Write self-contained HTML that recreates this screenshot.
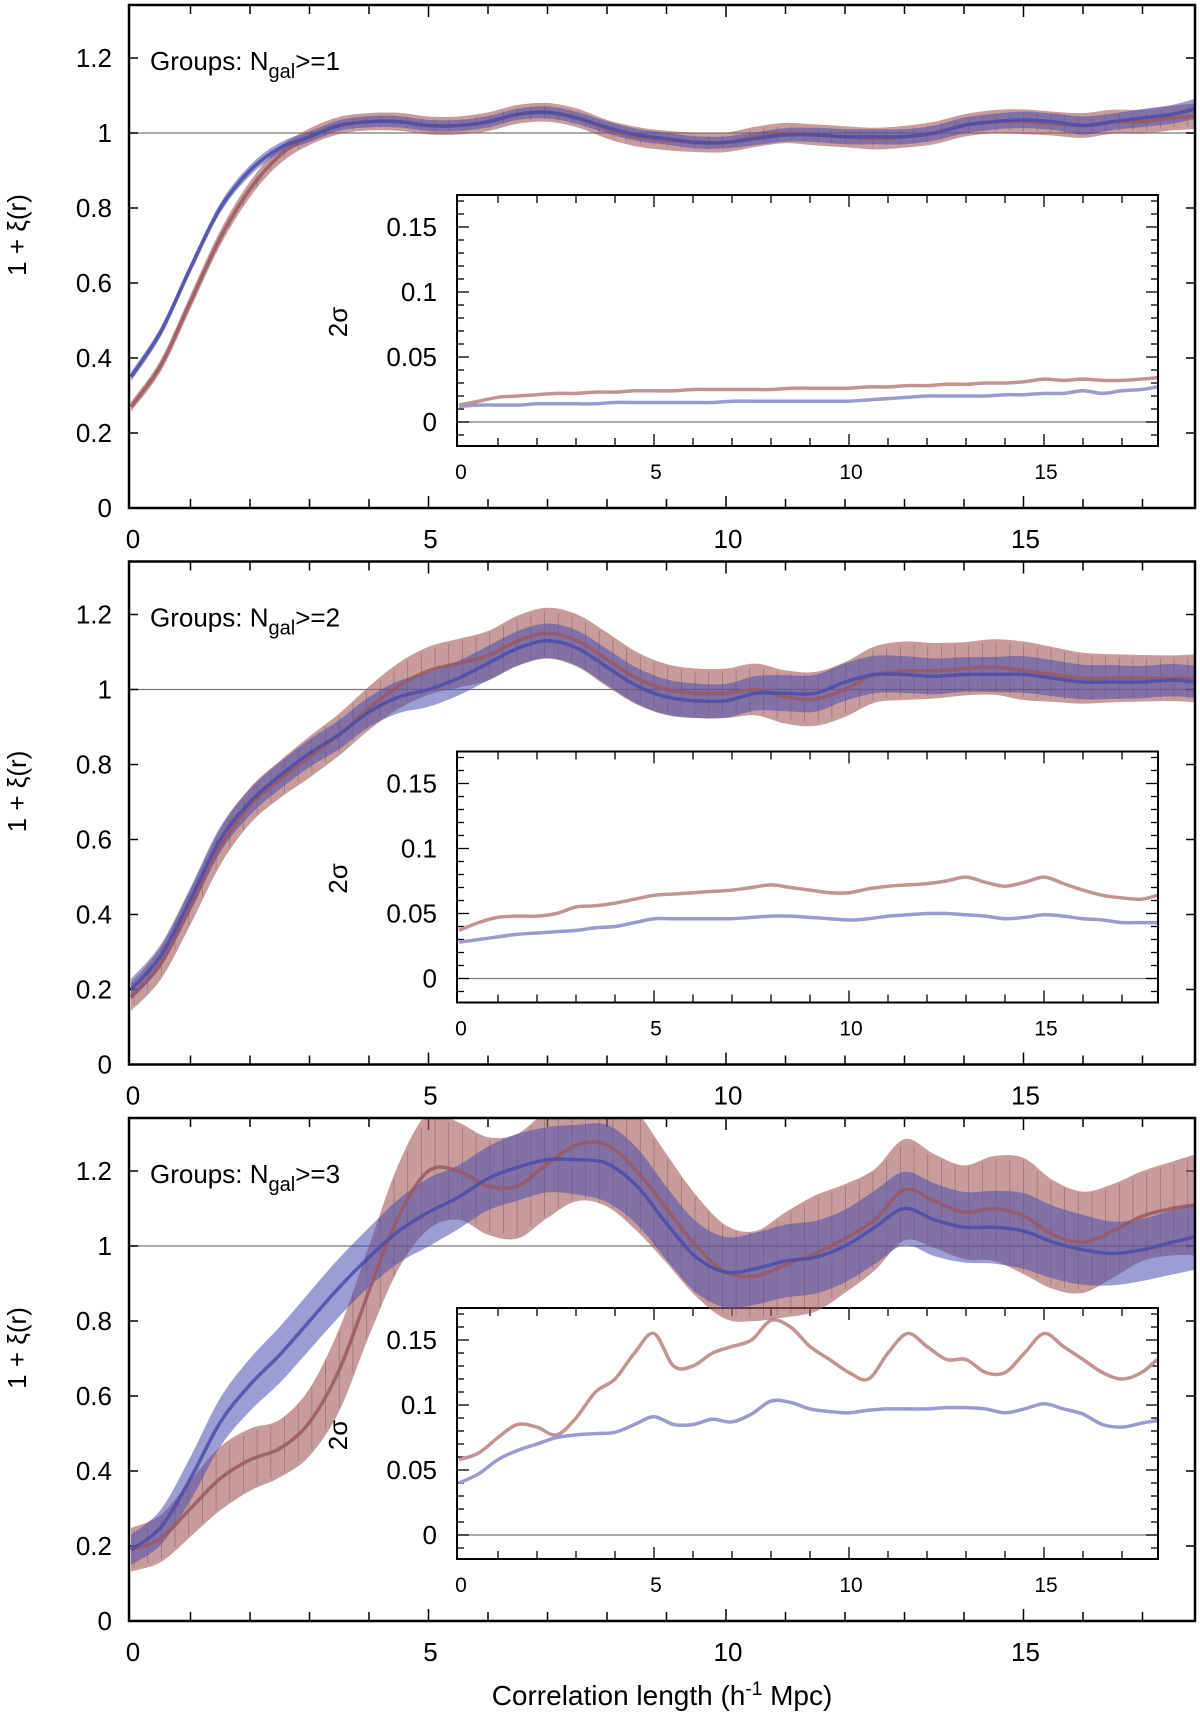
<!DOCTYPE html>
<html><head><meta charset="utf-8"><style>
html,body{margin:0;padding:0;background:#fff}
svg{display:block}
text{font-family:"Liberation Sans",sans-serif;fill:#000}
</style></head><body>
<svg id="fig" width="1200" height="1715" viewBox="0 0 1200 1715" xmlns="http://www.w3.org/2000/svg"></svg>
<script>
// ---------- data ----------
const xGrid = [0,0.5,1,1.5,2,2.5,3,3.5,4,4.5,5,5.5,6,6.5,7,7.5,8,8.5,9,9.5,10,10.5,11,11.5,12,12.5,13,13.5,14,14.5,15,15.5,16,16.5,17,17.5,17.9];
const p1Red  = [0.27,0.38,0.55,0.72,0.85,0.94,0.99,1.02,1.03,1.03,1.02,1.02,1.03,1.05,1.055,1.04,1.01,0.99,0.98,0.975,0.975,0.99,1.0,0.995,0.99,0.985,0.99,1.0,1.02,1.03,1.03,1.025,1.02,1.03,1.03,1.04,1.045];
const p1Blue = [0.35,0.47,0.64,0.80,0.90,0.96,0.99,1.02,1.03,1.03,1.02,1.02,1.03,1.05,1.055,1.04,1.015,0.995,0.985,0.975,0.975,0.985,0.995,0.995,0.99,0.99,0.99,1.0,1.02,1.03,1.035,1.03,1.02,1.03,1.04,1.05,1.065];
const p2Red  = [0.18,0.27,0.42,0.58,0.69,0.76,0.82,0.88,0.95,1.01,1.05,1.07,1.09,1.13,1.15,1.13,1.08,1.03,1.0,0.99,0.99,1.0,0.98,0.975,1.0,1.04,1.05,1.05,1.055,1.06,1.05,1.04,1.03,1.03,1.03,1.03,1.03];
const p2Blue = [0.20,0.29,0.44,0.60,0.70,0.77,0.83,0.88,0.94,0.98,1.0,1.03,1.07,1.11,1.13,1.11,1.06,1.01,0.98,0.97,0.97,0.99,0.99,0.99,1.02,1.04,1.04,1.035,1.04,1.04,1.04,1.03,1.02,1.02,1.02,1.025,1.02];
const p3Red  = [0.19,0.22,0.30,0.38,0.43,0.46,0.53,0.67,0.88,1.08,1.20,1.20,1.16,1.16,1.22,1.27,1.27,1.20,1.10,1.0,0.93,0.92,0.95,0.98,1.02,1.07,1.15,1.12,1.09,1.10,1.08,1.03,1.01,1.04,1.08,1.10,1.11];
const p3Blue = [0.19,0.25,0.38,0.53,0.63,0.71,0.80,0.89,0.97,1.04,1.09,1.13,1.18,1.21,1.23,1.23,1.22,1.16,1.06,0.97,0.93,0.94,0.96,0.97,1.0,1.05,1.10,1.07,1.05,1.05,1.04,1.01,0.99,0.98,0.99,1.01,1.025];
// 2-sigma values (inset)
const s1Red  = [0.013,0.016,0.019,0.020,0.021,0.022,0.022,0.023,0.023,0.024,0.024,0.024,0.025,0.025,0.025,0.025,0.025,0.026,0.026,0.026,0.026,0.027,0.027,0.028,0.028,0.029,0.029,0.030,0.030,0.031,0.033,0.032,0.033,0.032,0.032,0.033,0.034];
const s1Blue = [0.012,0.013,0.013,0.013,0.014,0.014,0.014,0.014,0.015,0.015,0.015,0.015,0.015,0.015,0.016,0.016,0.016,0.016,0.016,0.016,0.016,0.017,0.018,0.019,0.020,0.020,0.020,0.020,0.021,0.021,0.022,0.022,0.024,0.022,0.024,0.025,0.027];
const s2Red  = [0.037,0.043,0.047,0.048,0.048,0.050,0.055,0.056,0.058,0.061,0.064,0.065,0.066,0.067,0.068,0.070,0.072,0.070,0.068,0.066,0.066,0.069,0.071,0.072,0.073,0.075,0.078,0.074,0.071,0.074,0.078,0.073,0.068,0.064,0.062,0.061,0.064];
const s2Blue = [0.028,0.030,0.032,0.034,0.035,0.036,0.037,0.039,0.040,0.043,0.046,0.046,0.046,0.046,0.046,0.047,0.048,0.048,0.047,0.046,0.045,0.046,0.048,0.049,0.050,0.050,0.049,0.048,0.046,0.047,0.049,0.048,0.046,0.045,0.043,0.043,0.043];
const s3Red  = [0.058,0.063,0.075,0.085,0.083,0.077,0.090,0.110,0.120,0.140,0.155,0.130,0.130,0.140,0.145,0.150,0.165,0.160,0.145,0.135,0.125,0.120,0.140,0.155,0.145,0.135,0.135,0.125,0.125,0.140,0.155,0.145,0.135,0.125,0.120,0.125,0.135];
const s3Blue = [0.040,0.047,0.058,0.065,0.070,0.075,0.077,0.078,0.079,0.085,0.091,0.085,0.085,0.089,0.087,0.093,0.103,0.102,0.097,0.095,0.094,0.096,0.097,0.097,0.097,0.098,0.098,0.097,0.094,0.097,0.101,0.097,0.093,0.085,0.083,0.086,0.088];
const mainYTicks = [0,0.2,0.4,0.6,0.8,1,1.2];
const mainYLabels = ["0","0.2","0.4","0.6","0.8","1","1.2"];
const xTicks = [0,5,10,15];
const xTickLabels = ["0","5","10","15"];
const insetYTicks = [0,0.05,0.1,0.15];
const insetYLabels = ["0","0.05","0.1","0.15"];
const groupLabels = [">=1",">=2",">=3"];

const panels = [
  {red:p1Red, blue:p1Blue, sr:s1Red, sb:s1Blue},
  {red:p2Red, blue:p2Blue, sr:s2Red, sb:s2Blue},
  {red:p3Red, blue:p3Blue, sr:s3Red, sb:s3Blue}
];

const NS = "http://www.w3.org/2000/svg";
const svg = document.getElementById('fig');
function el(tag, attrs, parent){
  const e = document.createElementNS(NS, tag);
  for (const k in attrs) e.setAttribute(k, attrs[k]);
  (parent||svg).appendChild(e);
  return e;
}
function smoothPath(pts){
  let d = "M"+pts[0][0].toFixed(1)+","+pts[0][1].toFixed(1);
  for (let i=0;i<pts.length-1;i++){
    const p0=pts[Math.max(0,i-1)], p1=pts[i], p2=pts[i+1], p3=pts[Math.min(pts.length-1,i+2)];
    const c1=[p1[0]+(p2[0]-p0[0])/6, p1[1]+(p2[1]-p0[1])/6];
    const c2=[p2[0]-(p3[0]-p1[0])/6, p2[1]-(p3[1]-p1[1])/6];
    d += " C"+c1[0].toFixed(1)+","+c1[1].toFixed(1)+" "+c2[0].toFixed(1)+","+c2[1].toFixed(1)+" "+p2[0].toFixed(1)+","+p2[1].toFixed(1);
  }
  return d;
}
function smoothBand(upper, lower){
  const rev = lower.slice().reverse();
  let d = smoothPath(upper);
  d += " L"+rev[0][0].toFixed(1)+","+rev[0][1].toFixed(1);
  d += smoothPath(rev).replace(/^M[^ ]+/, "");
  return d + " Z";
}
function interp(arr, u){
  for (let i=0;i<xGrid.length-1;i++){
    if (u<=xGrid[i+1]){ const t=(u-xGrid[i])/(xGrid[i+1]-xGrid[i]); return arr[i]+t*(arr[i+1]-arr[i]); }
  }
  return arr[arr.length-1];
}

const PANEL_DY = 556.5;
panels.forEach((P, pi) => {
  const oy = pi*PANEL_DY;
  const g = el('g', {});
  
  
  const L=129, R=1195, T=5+oy, B=508+oy;
  const X = u => 131 + u*59.5;
  const Y = v => 508+oy - v*375;
  const IL=457, IR=1158, IT=195+oy, IB=446+oy;
  const IX = u => 459 + u*39;
  const IY = v => 422+oy - v*1300;

  const clipId = 'clip'+pi;
  const cp = el('clipPath', {id:clipId}, g);
  el('rect', {x:L, y:T, width:R-L, height:B-T}, cp);

  const yt = el('text', {x:0, y:0, transform:`translate(26,${235+oy}) rotate(-90)`, 'text-anchor':'middle', 'font-size':26}, g);
  yt.textContent = "1 + ξ(r)";
  
  

  const rl = el('line', {x1:L, x2:R, y1:Y(1), y2:Y(1), stroke:'#777', 'stroke-width':1.2}, g);
  
  

  mainYTicks.forEach((v,i) => {
    el('line', {x1:L, x2:L+9, y1:Y(v), y2:Y(v), stroke:'#000', 'stroke-width':1.5}, g);
    el('line', {x1:R-9, x2:R, y1:Y(v), y2:Y(v), stroke:'#000', 'stroke-width':1.5}, g);
    const t = el('text', {x:112, y:Y(v)+9, 'text-anchor':'end', 'font-size':26}, g);
    t.textContent = mainYLabels[i];
    
    
  });
  for (let u=1; u<=17; u++){
    const len = (u%5===0)?12:9;
    el('line', {x1:X(u), x2:X(u), y1:B, y2:B-len, stroke:'#000', 'stroke-width':1.5}, g);
    el('line', {x1:X(u), x2:X(u), y1:T, y2:T+len, stroke:'#000', 'stroke-width':1.5}, g);
  }
  xTicks.forEach((u,i) => {
    const t = el('text', {x:X(u)+2, y:548+oy, 'text-anchor':'middle', 'font-size':26}, g);
    t.textContent = xTickLabels[i];
    
    
  });

  const ig = el('g', {}, g);
  
  
  el('line', {x1:IL, x2:IR, y1:IY(0), y2:IY(0), stroke:'#777', 'stroke-width':1.3}, ig);
  for (let k=-2; k<=17; k++){
    const v=k*0.01, len=(k%5===0)?12:7;
    if (IY(v)>IB || IY(v)<IT) continue;
    el('line', {x1:IL, x2:IL+len, y1:IY(v), y2:IY(v), stroke:'#000', 'stroke-width':1.3}, ig);
    el('line', {x1:IR-len, x2:IR, y1:IY(v), y2:IY(v), stroke:'#000', 'stroke-width':1.3}, ig);
  }
  for (let u=1; u<=17; u++){
    const len=(u%5===0)?12:8;
    el('line', {x1:IX(u), x2:IX(u), y1:IB, y2:IB-len, stroke:'#000', 'stroke-width':1.3}, ig);
    el('line', {x1:IX(u), x2:IX(u), y1:IT, y2:IT+len, stroke:'#000', 'stroke-width':1.3}, ig);
  }
  insetYTicks.forEach((v,i) => {
    const t = el('text', {x:437, y:IY(v)+9, 'text-anchor':'end', 'font-size':26}, ig);
    t.textContent = insetYLabels[i];
    
    
  });
  xTicks.forEach((u,i) => {
    const t = el('text', {x:IX(u)+2, y:479+oy, 'text-anchor':'middle', 'font-size':21}, ig);
    t.textContent = xTickLabels[i];
    
    
  });
  const st = el('text', {x:0, y:0, transform:`translate(347,${322+oy}) rotate(-90)`, 'text-anchor':'middle', 'font-size':26}, ig);
  st.textContent = "2σ";
  
  
  const ir = el('path', {d:smoothPath(xGrid.map((u,i)=>[IX(u), IY(P.sr[i])])), fill:'none', stroke:'#c29492', 'stroke-width':3.5}, ig);
  
  
  const ib = el('path', {d:smoothPath(xGrid.map((u,i)=>[IX(u), IY(P.sb[i])])), fill:'none', stroke:'#9a9cd0', 'stroke-width':3.5}, ig);
  
  
  el('rect', {x:IL, y:IT, width:IR-IL, height:IB-IT, fill:'none', stroke:'#000', 'stroke-width':2}, ig);

  const cg = el('g', {'clip-path':`url(#${clipId})`}, g);
  const rb = el('path', {d:smoothBand(xGrid.map((u,i)=>[X(u), Y(P.red[i]+P.sr[i])]), xGrid.map((u,i)=>[X(u), Y(P.red[i]-P.sr[i])])), fill:'#a5605c', 'fill-opacity':0.62}, cg);
  
  
  // hatch lines within red band
  for (let u=0.05; u<17.9; u+=0.23){
    const top = interp(P.red,u)+interp(P.sr,u);
    const bot = interp(P.red,u)-interp(P.sr,u);
    el('line', {x1:X(u), x2:X(u), y1:Y(top)+3, y2:Y(bot)-3, stroke:'#2a1e3a', 'stroke-width':0.8, 'stroke-opacity':0.3}, cg);
  }
  const bb = el('path', {d:smoothBand(xGrid.map((u,i)=>[X(u), Y(P.blue[i]+P.sb[i])]), xGrid.map((u,i)=>[X(u), Y(P.blue[i]-P.sb[i])])), fill:'#4a4eae', 'fill-opacity':0.55}, cg);
  
  
  const rline = el('path', {d:smoothPath(xGrid.map((u,i)=>[X(u), Y(P.red[i])])), fill:'none', stroke:'#9a5862', 'stroke-width':3.5, 'stroke-opacity':0.85}, cg);
  
  
  const bline = el('path', {d:smoothPath(xGrid.map((u,i)=>[X(u), Y(P.blue[i])])), fill:'none', stroke:'#4b4ca8', 'stroke-width':3.5, 'stroke-opacity':0.85}, cg);
  
  

  const gl = el('text', {x:150, y:70+oy, 'font-size':26}, g);
  
  
  const t1 = el('tspan', {}, gl); t1.textContent = "Groups: N";
  const t2 = el('tspan', {dy:8, 'font-size':20}, gl); t2.textContent = "gal";
  const t3 = el('tspan', {dy:-8}, gl); t3.textContent = groupLabels[pi];

  const fr = el('rect', {x:L, y:T, width:R-L, height:B-T, fill:'none', stroke:'#000', 'stroke-width':2.5}, g);
  
  
});

const xt = el('text', {x:662, y:1705, 'text-anchor':'middle', 'font-size':28});


const a = el('tspan', {}, xt); a.textContent = "Correlation length (h";
const b = el('tspan', {dy:-10, 'font-size':19}, xt); b.textContent = "-1";
const c = el('tspan', {dy:10}, xt); c.textContent = " Mpc)";
</script>
</body></html>
